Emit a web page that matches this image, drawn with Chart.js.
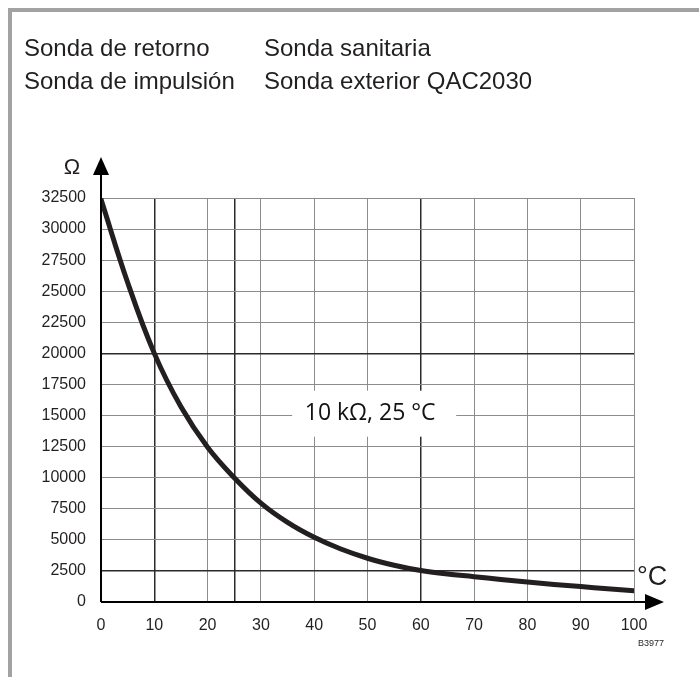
<!DOCTYPE html>
<html>
<head>
<meta charset="utf-8">
<script src="https://cdn.jsdelivr.net/npm/chart.js@4"></script>
<style>
  body { margin: 0; background: #fff; }
  #wrap { position: relative; width: 699px; height: 677px; }
  #frame { position: absolute; left: 8px; top: 8px; right: 0; bottom: 0;
    border-top: 4px solid #a2a2a5; border-left: 4px solid #a2a2a5; }
  #reportCanvas { position: absolute; left: 0; top: 0; }
</style>
</head>
<body>
<div id="wrap">
  <div id="frame"></div>
  <canvas id="reportCanvas" width="699" height="677"></canvas>
</div>
<script>
// probe names in the header, two columns
const probesLeft = ["Sonda de retorno", "Sonda de impulsión"];
const probesRight = ["Sonda sanitaria", "Sonda exterior QAC2030"];

// NTC curve, temperature in °C and resistance in ohm
const temps = [0, 5, 10, 15, 20, 25, 30, 35, 40, 45, 50, 55, 60, 65, 70, 75, 80, 85, 90, 95, 100];
const ohms = [32400, 25700, 20000, 15700, 12450, 10000, 7950, 6400, 5200, 4260, 3520, 2960, 2530, 2250, 2040, 1810, 1600, 1410, 1240, 1070, 910];

const darkX = [10, 25, 60];      // heavier vertical lines
const darkY = [2500, 20000];     // heavier horizontal lines
const curveLabel = "10 kΩ, 25 °C";
const labelAt = { x: 50.5, y: 15150 };

const ink = "#231f20";
const sans = "'Liberation Sans', Arial, sans-serif";

const decor = {
  id: "decor",
  afterDraw(chart) {
    const c = chart.ctx;
    const xs = chart.scales.x, ys = chart.scales.y;
    const x0 = xs.getPixelForValue(0), y0 = ys.getPixelForValue(0);
    const top = chart.chartArea.top, right = chart.chartArea.right;
    c.save();
    // header
    c.fillStyle = ink;
    c.font = "24px " + sans;
    c.textBaseline = "alphabetic";
    probesLeft.forEach((t, i) => c.fillText(t, 24, 56 + i * 33));
    probesRight.forEach((t, i) => c.fillText(t, 264, 56 + i * 33));

    // label on the curve, white box hides the grid behind it
    const lx = xs.getPixelForValue(labelAt.x), ly = ys.getPixelForValue(labelAt.y);
    c.fillStyle = "#fff";
    c.fillRect(lx - 78, ly - 23, 164, 46);
    c.fillStyle = "#111";
    c.font = "23px 'Open Sans', 'Noto Sans', sans-serif";
    c.textAlign = "center";
    c.textBaseline = "middle";
    c.fillText(curveLabel, lx, ly);

    // axes with arrows
    c.strokeStyle = "#000";
    c.fillStyle = "#000";
    c.lineWidth = 2;
    c.beginPath();
    c.moveTo(x0, y0); c.lineTo(x0, top - 25);
    c.moveTo(x0, y0); c.lineTo(right + 12, y0);
    c.stroke();
    c.beginPath();
    c.moveTo(x0, top - 41); c.lineTo(x0 - 8, top - 23); c.lineTo(x0 + 8, top - 23); c.closePath();
    c.fill();
    c.beginPath();
    c.moveTo(right + 30, y0); c.lineTo(right + 11, y0 - 8); c.lineTo(right + 11, y0 + 8); c.closePath();
    c.fill();

    // unit labels
    c.fillStyle = ink;
    c.textAlign = "center";
    c.textBaseline = "alphabetic";
    c.font = "22px " + sans;
    c.fillText("Ω", x0 - 29, top - 24);
    c.textAlign = "left";
    c.font = "27px " + sans;
    c.fillText("°C", right + 3, y0 - 17);
    c.font = "9px " + sans;
    c.fillText("B3977", right + 4, y0 + 44);
    c.restore();
  }
};

function gridStyle(list) {
  return {
    color: (ctx) => list.includes(ctx.tick && ctx.tick.value) ? "#2b2b2b" : "#8c8c8c",
    lineWidth: (ctx) => list.includes(ctx.tick && ctx.tick.value) ? 1.5 : 1,
    drawTicks: false
  };
}

const canvas = document.getElementById("reportCanvas");
new Chart(canvas, {
  type: "line",
  data: {
    datasets: [{
      data: temps.map((t, i) => ({ x: t, y: ohms[i] })),
      borderColor: ink,
      borderWidth: 5,
      borderCapStyle: "round",
      pointRadius: 0,
      tension: 0.4,
      fill: false
    }]
  },
  options: {
    responsive: false,
    animation: false,
    devicePixelRatio: 1,
    layout: { padding: { left: 0, top: 198, right: 65, bottom: 0 } },
    plugins: { legend: { display: false }, tooltip: { enabled: false } },
    scales: {
      x: {
        type: "linear",
        min: 0, max: 100,
        afterBuildTicks(scale) {
          scale.ticks.push({ value: 25 });
          scale.ticks.sort((a, b) => a.value - b.value);
        },
        afterFit(scale) { scale.height = 75; },
        ticks: {
          stepSize: 10,
          padding: 14,
          color: ink,
          font: { family: sans, size: 16 },
          callback: (v) => v === 25 ? "" : v
        },
        grid: gridStyle(darkX),
        border: { display: false }
      },
      y: {
        min: 0, max: 32500,
        afterFit(scale) { scale.width = 101; },
        ticks: {
          stepSize: 2500,
          padding: 15,
          color: ink,
          font: { family: sans, size: 16 },
          callback: (v) => String(v)
        },
        grid: gridStyle(darkY),
        border: { display: false }
      }
    }
  },
  plugins: [decor]
});
</script>
</body>
</html>
